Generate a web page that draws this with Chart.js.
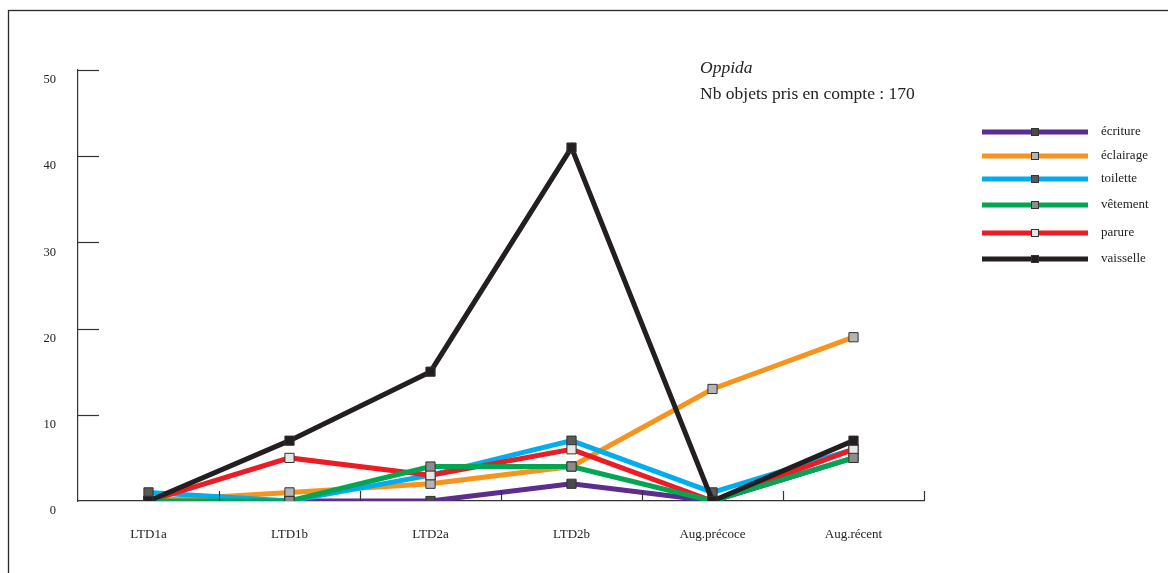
<!DOCTYPE html>
<html>
<head>
<meta charset="utf-8">
<script src="https://cdn.jsdelivr.net/npm/chart.js@4/dist/chart.umd.min.js"></script>
<style>
  html, body { margin: 0; padding: 0; background: #fff; }
  canvas { display: block; }
</style>
</head>
<body>
<canvas id="chart" width="1168" height="573"></canvas>
<script>
const periods = ['LTD1a', 'LTD1b', 'LTD2a', 'LTD2b', 'Aug.précoce', 'Aug.récent']
const yTicks = [0, 10, 20, 30, 40, 50]

const ecriture  = [0, 0, 0, 2, 0, 5]
const eclairage = [0, 1, 2, 4, 13, 19]
const toilette  = [1, 0, 3, 7, 1, 6]
const vetement  = [0, 0, 4, 4, 0, 5]
const parure    = [0, 5, 3, 6, 0, 6]
const vaisselle = [0, 7, 15, 41, 0, 7]

const title1 = 'Oppida'
const title2 = 'Nb objets pris en compte : 170'

const serif = '"Liberation Serif", "DejaVu Serif", serif'

const series = [
    { label: 'écriture',  data: ecriture,  color: '#5b2d8e', marker: '#4a4a4a', order: 6 },
    { label: 'éclairage', data: eclairage, color: '#f7941d', marker: '#b4b4b4', order: 5 },
    { label: 'toilette',  data: toilette,  color: '#00aeef', marker: '#5a5a5a', order: 4 },
    { label: 'vêtement',  data: vetement,  color: '#00a651', marker: '#8c8c8c', order: 2 },
    { label: 'parure',    data: parure,    color: '#ed1c24', marker: '#e6e6e6', order: 3 },
    { label: 'vaisselle', data: vaisselle, color: '#231f20', marker: '#231f20', order: 1 }
]

// legend rows as in the figure, slightly irregular spacing
const legendRows = [132, 156, 179, 205, 233, 259]

const decor = {
    id: 'decor',
    afterDraw(chart) {
        const ctx = chart.ctx
        const x = chart.scales.x
        const y = chart.scales.y
        const area = chart.chartArea
        ctx.save()

        // outer frame
        ctx.strokeStyle = '#2a2a2a'
        ctx.lineWidth = 1.3
        ctx.strokeRect(8.5, 10.5, 1300, 700)

        // inside ticks of the y axis
        ctx.strokeStyle = '#333'
        ctx.lineWidth = 1.2
        yTicks.slice(1).forEach((v) => {
            const py = Math.round(y.getPixelForValue(v)) + 0.5
            ctx.beginPath()
            ctx.moveTo(area.left, py)
            ctx.lineTo(area.left + 21, py)
            ctx.stroke()
        })

        // upward ticks between categories
        const step = x.getPixelForValue(1) - x.getPixelForValue(0)
        periods.forEach((p, i) => {
            const px = Math.round(x.getPixelForValue(i) + step / 2) + 0.5
            ctx.beginPath()
            ctx.moveTo(px, area.bottom)
            ctx.lineTo(px, area.bottom - 10)
            ctx.stroke()
        })

        // annotation
        ctx.fillStyle = '#222'
        ctx.textBaseline = 'middle'
        ctx.textAlign = 'left'
        ctx.font = 'italic 17.5px ' + serif
        ctx.fillText(title1, 700, 68)
        ctx.font = '17.5px ' + serif
        ctx.fillText(title2, 700, 94)

        // legend
        ctx.font = '13px ' + serif
        series.forEach((s, i) => {
            const ly = legendRows[i]
            ctx.strokeStyle = s.color
            ctx.lineWidth = 5
            ctx.beginPath()
            ctx.moveTo(982, ly)
            ctx.lineTo(1088, ly)
            ctx.stroke()
            ctx.fillStyle = s.marker
            ctx.fillRect(1031, ly - 4, 8, 8)
            ctx.strokeStyle = '#333'
            ctx.lineWidth = 1
            ctx.strokeRect(1031.5, ly - 3.5, 7, 7)
            ctx.fillStyle = '#222'
            ctx.fillText(s.label, 1101, ly)
        })
        ctx.restore()
    }
}

new Chart(document.getElementById('chart'), {
    type: 'line',
    data: {
        labels: periods,
        datasets: series.map((s) => ({
            label: s.label,
            data: s.data,
            borderColor: s.color,
            backgroundColor: s.color,
            borderWidth: 5,
            tension: 0,
            order: s.order,
            pointStyle: 'rect',
            pointRadius: 6.5,
            pointBackgroundColor: s.marker,
            pointBorderColor: '#333',
            pointBorderWidth: 1
        }))
    },
    options: {
        responsive: false,
        animation: false,
        layout: { padding: { left: 0, right: 244, top: 70, bottom: 0 } },
        plugins: {
            legend: { display: false },
            tooltip: { enabled: false }
        },
        scales: {
            x: {
                offset: true,
                afterFit: (scale) => { scale.height = 72 },
                grid: { display: false },
                border: { display: true, color: '#333', width: 1.2 },
                ticks: { font: { family: serif, size: 13 }, color: '#222', padding: 18, maxRotation: 0 }
            },
            y: {
                min: 0,
                max: 50,
                afterFit: (scale) => { scale.width = 78 },
                grid: { display: false },
                border: { display: true, color: '#333', width: 1.2 },
                ticks: { stepSize: 10, font: { family: serif, size: 12.5 }, color: '#222', padding: 14, labelOffset: 10 }
            }
        }
    },
    plugins: [decor]
})
</script>
</body>
</html>
